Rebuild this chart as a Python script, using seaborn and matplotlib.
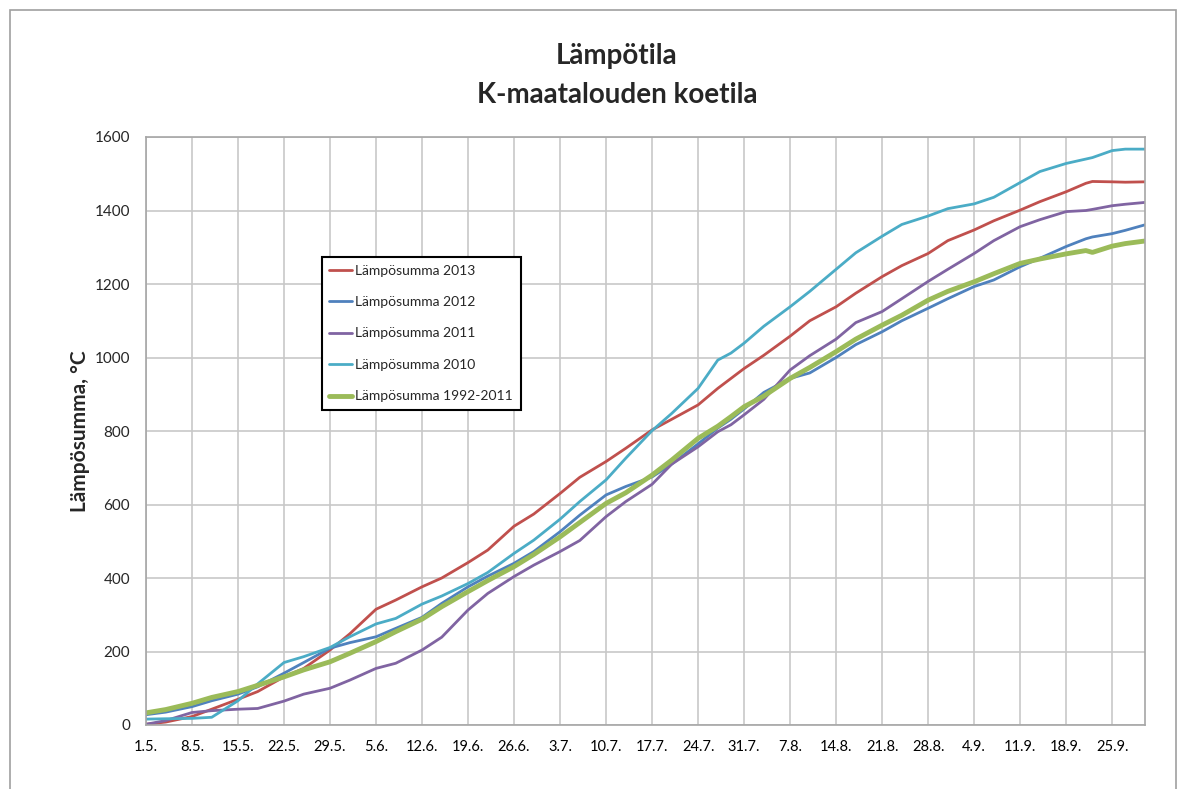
import matplotlib
matplotlib.use("Agg")
import matplotlib.pyplot as plt
import seaborn as sns
from matplotlib.patches import Rectangle
from matplotlib.ticker import MultipleLocator

# Day index from 1.5. (0) to 30.9. (152)
days = [0, 3, 7, 10, 14, 17, 21, 24, 28, 31, 35, 38, 42, 45, 49, 52, 56, 59, 63, 66,
        70, 73, 77, 80, 84, 87, 89, 91, 94, 98, 101, 105, 108, 112, 115, 119, 122, 126, 129, 133,
        136, 140, 143, 144, 147, 149, 152]

sum_2013 = [2, 8, 23, 43, 70, 91, 131, 154, 204, 248, 315, 340, 376, 400, 442, 476, 541, 574, 630, 674,
            717, 753, 803, 832, 871, 916, 943, 970, 1006, 1058, 1100, 1138, 1175, 1220, 1250, 1283, 1318, 1347, 1372, 1401,
            1424, 1451, 1474, 1479, 1478, 1477, 1478]
sum_2012 = [28, 35, 50, 66, 84, 104, 141, 170, 209, 224, 240, 263, 293, 331, 376, 405, 440, 472, 526, 571,
            626, 649, 675, 710, 765, 808, 832, 860, 905, 943, 958, 1000, 1035, 1070, 1100, 1134, 1160, 1193, 1211, 1247,
            1270, 1302, 1323, 1328, 1337, 1346, 1361]
sum_2011 = [2, 12, 34, 39, 43, 45, 65, 84, 100, 122, 154, 168, 204, 239, 313, 358, 404, 435, 472, 502,
            567, 608, 655, 710, 757, 798, 817, 844, 886, 966, 1005, 1050, 1095, 1125, 1160, 1207, 1240, 1283, 1318, 1356,
            1375, 1397, 1400, 1403, 1413, 1417, 1422]
sum_2010 = [16, 17, 18, 21, 66, 112, 170, 186, 211, 240, 275, 290, 329, 351, 385, 415, 467, 503, 560, 608,
            667, 726, 801, 848, 916, 993, 1012, 1039, 1085, 1138, 1180, 1240, 1285, 1330, 1362, 1385, 1405, 1418, 1436, 1476,
            1506, 1528, 1540, 1544, 1563, 1567, 1567]
sum_avg = [33, 42, 59, 75, 91, 108, 131, 150, 172, 195, 227, 254, 288, 322, 363, 393, 431, 464, 512, 551,
           603, 632, 680, 721, 780, 813, 839, 866, 895, 943, 973, 1016, 1050, 1088, 1115, 1156, 1180, 1206, 1228, 1256,
           1268, 1282, 1291, 1286, 1303, 1310, 1317]

tick_days = [0, 7, 14, 21, 28, 35, 42, 49, 56, 63, 70, 77, 84, 91, 98, 105, 112, 119, 126, 133, 140, 147]
tick_labels = ["1.5.", "8.5.", "15.5.", "22.5.", "29.5.", "5.6.", "12.6.", "19.6.", "26.6.", "3.7.", "10.7.",
               "17.7.", "24.7.", "31.7.", "7.8.", "14.8.", "21.8.", "28.8.", "4.9.", "11.9.", "18.9.", "25.9."]

series = [
    ("Lämpösumma 2013", sum_2013, "#C0504D", 2.0),
    ("Lämpösumma 2012", sum_2012, "#4F81BD", 2.0),
    ("Lämpösumma 2011", sum_2011, "#8064A2", 2.0),
    ("Lämpösumma 2010", sum_2010, "#4BACC6", 2.0),
    ("Lämpösumma 1992-2011", sum_avg, "#9BBB59", 3.5),
]

sns.set_style("white")
plt.rcParams["font.family"] = ["Lato", "DejaVu Sans"]

fig = plt.figure(figsize=(11.86, 7.89), dpi=100)
ax = fig.add_axes([146 / 1186, 1 - 725 / 789, 999 / 1186, 588 / 789])

for name, vals, color, lw in series:
    sns.lineplot(x=days, y=vals, ax=ax, color=color, linewidth=lw, label=name)

ax.set_xlim(0, 152)
ax.set_ylim(0, 1600)
ax.set_xticks(tick_days)
ax.set_xticklabels(tick_labels, fontsize=10.5)
ax.xaxis.set_minor_locator(MultipleLocator(1))
ax.set_yticks(range(0, 1601, 200))
ax.grid(True, which="major", color="#c8c8c8", linewidth=1.2)
ax.set_axisbelow(True)
ax.tick_params(axis="x", which="minor", direction="in", length=4, color="#a6a6a6", width=0.8)
ax.tick_params(axis="x", which="major", direction="in", length=0, pad=11, colors="black")
ax.tick_params(axis="y", length=0, pad=11.5, labelsize=11)
for sp in ax.spines.values():
    sp.set_color("#a6a6a6")
    sp.set_linewidth(1.2)

ax.set_xlabel("")
ax.set_ylabel("Lämpösumma, °C", fontsize=15, fontweight="bold")
ax.yaxis.set_label_coords((90 - 146) / 999, 0.5)

leg = ax.legend(loc="upper left", bbox_to_anchor=(0.176, 0.796), frameon=True, fancybox=False,
                edgecolor="black", framealpha=1, fontsize=10, handlelength=1.6,
                borderpad=0.55, labelspacing=1.4, handletextpad=0.25, borderaxespad=0)
leg.get_frame().set_linewidth(1.5)

fig.text(617 / 1186, 1 - 56 / 789, "Lämpötila", ha="center", va="center", fontsize=20, fontweight="bold")
fig.text(617 / 1186, 1 - 95 / 789, "K-maatalouden koetila", ha="center", va="center", fontsize=20, fontweight="bold")

fig.patches.append(Rectangle((10 / 1186, -0.02), 1166 / 1186, 1 - 10 / 789 + 0.02,
                             transform=fig.transFigure, fill=False, edgecolor="#a0a0a0", linewidth=1.2))

fig.savefig("out.png", dpi=100)
